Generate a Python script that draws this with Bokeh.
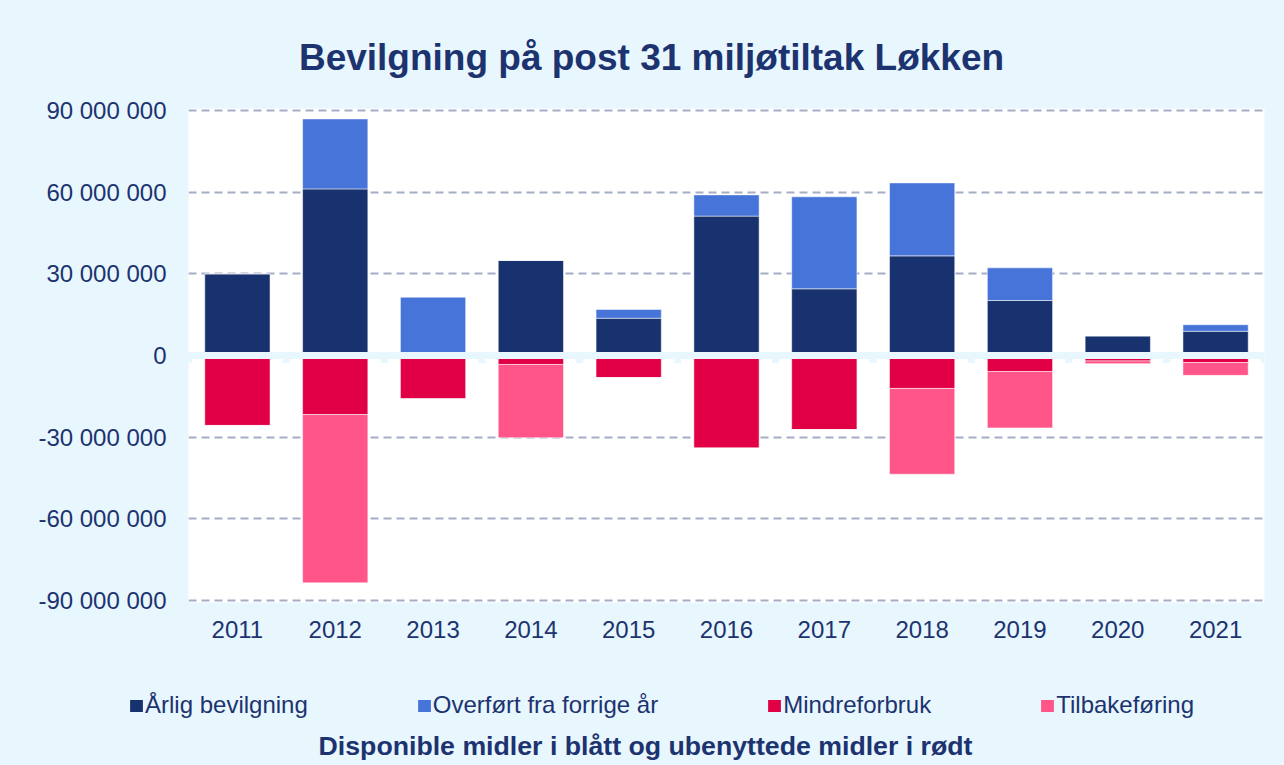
from bokeh.plotting import figure
from bokeh.models import (Range1d, FixedTicker, Span, Legend, LegendItem, Label,
                          ColumnDataSource)
from bokeh.embed import file_html
from bokeh.resources import INLINE

years = ["2011", "2012", "2013", "2014", "2015", "2016", "2017", "2018", "2019", "2020", "2021"]
aarlig_bevilgning = [30000000, 61200000, 0, 34900000, 13700000, 51200000, 24500000, 36600000, 20200000, 7200000, 8900000]
overfort_fra_forrige = [0, 25700000, 21400000, 0, 3200000, 7800000, 33800000, 26800000, 12000000, 0, 2400000]
mindreforbruk = [25700000, 21700000, 15900000, 3300000, 8100000, 34000000, 27200000, 12100000, 5900000, 2000000, 2600000]
tilbakeforing = [0, 61800000, 0, 26900000, 0, 0, 0, 31500000, 20700000, 1000000, 4700000]
y_ticks = [-90000000, -60000000, -30000000, 0, 30000000, 60000000, 90000000]
series_names = ["Årlig bevilgning", "Overført fra forrige år", "Mindreforbruk", "Tilbakeføring"]
title_text = "Bevilgning på post 31 miljøtiltak Løkken"
subtitle_text = "Disponible midler i blått og ubenyttede midler i rødt"

BG = "#E8F6FD"
TXT = "#1C3370"
COLORS = ["#18326F", "#4674D9", "#E10045", "#FF5588"]
FONT = "Liberation Sans"

W = 1284
HEAD_H, MAIN_H, FOOT_H = 80, 600, 85
BL, BR, BT, BB = 188, 20, 28, 78
FH = MAIN_H - BT - BB
PAD_PX = 2
span_val = y_ticks[-1] - y_ticks[0]
pad = span_val * PAD_PX / (FH - 2 * PAD_PX)

xs = list(range(len(years)))
src = ColumnDataSource(dict(
    x=xs,
    aarlig=aarlig_bevilgning,
    over=overfort_fra_forrige,
    mindre=[-v for v in mindreforbruk],
    tilbake=[-v for v in tilbakeforing],
))
stack_fields = ["aarlig", "over", "mindre", "tilbake"]


def blank(h):
    f = figure(width=W, height=h, x_range=Range1d(0, W), y_range=Range1d(0, h),
               x_axis_location=None, y_axis_location=None, min_border=0,
               output_backend="svg", toolbar_location=None)
    f.grid.visible = False
    f.outline_line_color = None
    f.background_fill_color = BG
    f.border_fill_color = BG
    return f


# ---------- header ----------
head = blank(HEAD_H)
head.add_layout(Label(x=651, y=HEAD_H - 57, text=title_text,
                      text_align="center", text_baseline="middle",
                      text_font=FONT, text_font_style="bold", text_font_size="37px",
                      text_color=TXT))

# ---------- main chart ----------
p = figure(width=W, height=MAIN_H,
           x_range=Range1d(-0.5, len(years) - 0.5),
           y_range=Range1d(y_ticks[0] - pad, y_ticks[-1] + pad),
           output_backend="svg", toolbar_location=None,
           min_border_left=BL, min_border_right=BR,
           min_border_top=BT, min_border_bottom=BB)
p.background_fill_color = "white"
p.border_fill_color = BG
p.outline_line_color = None

p.xgrid.grid_line_color = None
p.ygrid.ticker = FixedTicker(ticks=y_ticks)
p.ygrid.grid_line_color = "#A5AEC6"
p.ygrid.grid_line_width = 2
p.ygrid.grid_line_dash = "8 5"

BW = 0.667
pos = p.vbar_stack(stack_fields[:2], x="x", width=BW, source=src,
                   fill_color=COLORS[:2], line_color="white",
                   line_alpha=0.5, line_width=1)
neg = p.vbar_stack(stack_fields[2:], x="x", width=BW, source=src,
                   fill_color=COLORS[2:], line_color="white",
                   line_alpha=0.5, line_width=1)

# zero axis band with category-boundary ticks
bounds = [i - 0.5 for i in range(len(years) + 1)]
px_val = (span_val + 2 * pad) / FH
p.segment(x0=bounds, x1=bounds, y0=[0] * len(bounds), y1=[-7.5 * px_val] * len(bounds),
          line_color=BG, line_width=7, line_cap="butt")
p.add_layout(Span(location=0, dimension="width", line_color=BG, line_width=7))

p.xaxis.ticker = FixedTicker(ticks=xs)
p.xaxis.major_label_overrides = {i: y for i, y in zip(xs, years)}
p.yaxis.ticker = FixedTicker(ticks=y_ticks)
p.yaxis.major_label_overrides = {v: f"{v:,}".replace(",", " ") for v in y_ticks}
for ax in (p.xaxis[0], p.yaxis[0]):
    ax.axis_line_color = None
    ax.major_tick_line_color = None
    ax.minor_tick_line_color = None
    ax.major_label_text_font = FONT
    ax.major_label_text_font_size = "24px"
    ax.major_label_text_color = TXT
p.yaxis.major_label_standoff = 16
p.xaxis.major_label_standoff = 12

# ---------- footer: legend + subtitle ----------
foot = blank(FOOT_H)
proxies = [foot.vbar(x="x", top=f, width=BW, source=src, fill_color=c, line_color=c,
                     line_width=0, visible=False)
           for f, c in zip(stack_fields, COLORS)]
legend = Legend(items=[LegendItem(label=n, renderers=[r]) for n, r in zip(series_names, proxies)],
                orientation="horizontal", location=(128, FOOT_H - 25 - 14), spacing=108,
                glyph_width=16, glyph_height=15, label_standoff=1,
                label_text_font=FONT, label_text_font_size="24px", label_text_color=TXT,
                background_fill_alpha=0, border_line_color=None, margin=0, padding=0)
foot.add_layout(legend, "center")
foot.add_layout(Label(x=645, y=FOOT_H - 65, text=subtitle_text,
                      text_align="center", text_baseline="middle",
                      text_font=FONT, text_font_style="bold", text_font_size="26.7px",
                      text_color=TXT))

html = file_html([head, p, foot], INLINE)
html = html.replace("<head>", "<head><style>html, body { margin: 0; background: #E8F6FD; }</style>", 1)
open("out.html", "w").write(html)
